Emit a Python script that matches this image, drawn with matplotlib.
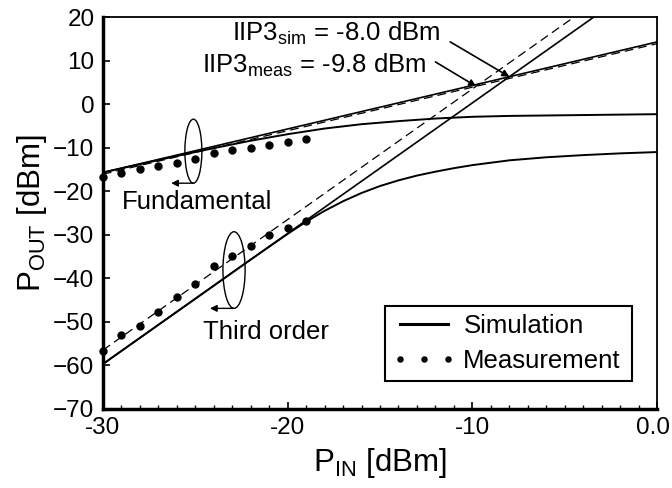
import matplotlib
matplotlib.use("Agg")
import matplotlib.pyplot as plt
import matplotlib.transforms as mtransforms
from matplotlib.patches import Ellipse
from matplotlib.lines import Line2D
from matplotlib.ticker import MultipleLocator, FixedLocator, FixedFormatter

plt.rcParams['font.family'] = ['Liberation Sans', 'DejaVu Sans']
plt.rcParams['mathtext.default'] = 'regular'

# ---- data ----
fund_sim_x = [-30, -28, -26, -24, -22, -20, -18, -16, -14, -12, -10, -8, -6, -4, -2, 0]
fund_sim_y = [-15.7, -13.8, -11.9, -10.1, -8.4, -6.9, -5.6, -4.6, -3.9, -3.3, -2.9, -2.7, -2.6, -2.5, -2.4, -2.3]

third_sim_x = [-30, -28, -26, -24, -22, -20, -19, -18, -17, -16, -15, -14, -13, -12, -11, -10,
               -8, -6, -4, -2, 0]
third_sim_y = [-59.7, -53.7, -47.7, -41.7, -35.7, -29.8, -27.0, -24.5, -22.3, -20.4, -18.8, -17.5,
               -16.4, -15.5, -14.7, -14.0, -12.9, -12.2, -11.7, -11.3, -11.0]

meas_x = [-30, -29, -28, -27, -26, -25, -24, -23, -22, -21, -20, -19]
fund_meas_y = [-16.7, -15.9, -15.0, -14.2, -13.4, -12.5, -11.2, -10.6, -10.0, -9.4, -8.8, -8.1]
third_meas_y = [-56.6, -53.0, -50.9, -47.7, -44.3, -41.3, -37.1, -34.9, -32.5, -30.0, -28.4, -26.9]

# extrapolation lines (end points)
ext_x = [-30, 0]
fund_ext_sim_y = [-15.7, 14.3]
third_ext_sim_y = [-59.7, 30.3]
fund_ext_meas_y = [-16.1, 13.9]
third_ext_meas_y = [-56.5, 33.5]

iip3_sim = (-8.0, 6.3)
iip3_meas = (-9.8, 4.1)

xticks = [-30, -20, -10, 0]
xticklabels = ['-30', '-20', '-10', '0.0']
yticks = [-70, -60, -50, -40, -30, -20, -10, 0, 10, 20]

# ---- figure ----
fig = plt.figure(figsize=(6.72, 4.88), dpi=100)
ax = fig.add_axes([0.153, 0.162, 0.825, 0.803])

lw_curve = 1.4
ax.plot(fund_sim_x, fund_sim_y, color='black', lw=lw_curve)
ax.plot(third_sim_x, third_sim_y, color='black', lw=lw_curve)
ax.plot(ext_x, fund_ext_sim_y, color='black', lw=1.2)
ax.plot(ext_x, third_ext_sim_y, color='black', lw=1.2)
ax.plot(ext_x, fund_ext_meas_y, color='black', lw=0.9, ls=(0, (7, 4)))
ax.plot(ext_x, third_ext_meas_y, color='black', lw=0.9, ls=(0, (7, 4)))
ax.plot(meas_x, fund_meas_y, ls='none', marker='o', ms=5, color='black', clip_on=False, zorder=5)
ax.plot(meas_x, third_meas_y, ls='none', marker='o', ms=5, color='black', clip_on=False, zorder=5)

# ellipses with arrows
e1 = Ellipse((-25.1, -10.8), 0.92, 14.7, fill=False, ec='black', lw=1.0)
ax.add_patch(e1)
ax.annotate('', xy=(-26.3, -18.15), xytext=(-25.1, -18.15),
            arrowprops=dict(arrowstyle='-|>', color='black', lw=1.0,
                            mutation_scale=10, shrinkA=0, shrinkB=0))
e2 = Ellipse((-22.9, -38.1), 1.2, 17.6, fill=False, ec='black', lw=1.0)
ax.add_patch(e2)
ax.annotate('', xy=(-24.2, -46.9), xytext=(-22.9, -46.9),
            arrowprops=dict(arrowstyle='-|>', color='black', lw=1.0,
                            mutation_scale=10, shrinkA=0, shrinkB=0))

fs = 18.5
ax.text(-28.97, -22.5, 'Fundamental', fontsize=fs, ha='left', va='center')
ax.text(-24.6, -52.3, 'Third order', fontsize=fs, ha='left', va='center')

ax.text(-11.75, 16.3, 'IIP3$_{sim}$ = -8.0 dBm', fontsize=fs, ha='right', va='center')
ax.text(-12.5, 9.0, 'IIP3$_{meas}$ = -9.8 dBm', fontsize=fs, ha='right', va='center')
ax.annotate('', xy=iip3_sim, xytext=(-11.2, 14.3),
            arrowprops=dict(arrowstyle='-|>', color='black', lw=1.2,
                            mutation_scale=10, shrinkA=0, shrinkB=0))
ax.annotate('', xy=iip3_meas, xytext=(-12.0, 9.7),
            arrowprops=dict(arrowstyle='-|>', color='black', lw=1.2,
                            mutation_scale=10, shrinkA=0, shrinkB=0))

# axes styling
ax.set_xlim(-30, 0)
ax.set_ylim(-70, 20)
ax.xaxis.set_major_locator(FixedLocator(xticks))
ax.xaxis.set_major_formatter(FixedFormatter(xticklabels))
ax.xaxis.set_minor_locator(MultipleLocator(1))
ax.yaxis.set_major_locator(FixedLocator(yticks))
ax.tick_params(axis='both', which='major', direction='in', length=5, width=1.2,
               labelsize=17.5, top=False, right=False, pad=6)
ax.tick_params(axis='x', which='minor', direction='in', length=3, width=1.0)
for s in ['left', 'bottom']:
    ax.spines[s].set_linewidth(2.5)
for s in ['top', 'right']:
    ax.spines[s].set_linewidth(1.3)

# shift the last x tick label slightly left so it stays in the figure
last = ax.get_xticklabels()[-1]
last.set_transform(last.get_transform() + mtransforms.ScaledTranslation(-4 / 100, 0, fig.dpi_scale_trans))

ax.set_xlabel('P$_{IN}$ [dBm]', fontsize=22.5, labelpad=5)
ax.set_ylabel('P$_{OUT}$ [dBm]', fontsize=22.5, labelpad=3)

handles = [Line2D([], [], color='black', lw=2.2),
           Line2D([], [], color='black', ls='none', marker='o', ms=3.6)]
leg = ax.legend(handles, ['Simulation', 'Measurement'], loc='lower left',
                bbox_to_anchor=(0.509, 0.071, 0.446, 0.192), mode='expand',
                fontsize=fs, frameon=True, fancybox=False, edgecolor='black',
                framealpha=1, borderpad=0.3, labelspacing=0.45,
                handlelength=2.45, handletextpad=0.3, borderaxespad=0, numpoints=3)
leg.get_frame().set_linewidth(1.5)

fig.savefig('out.png', dpi=100)
